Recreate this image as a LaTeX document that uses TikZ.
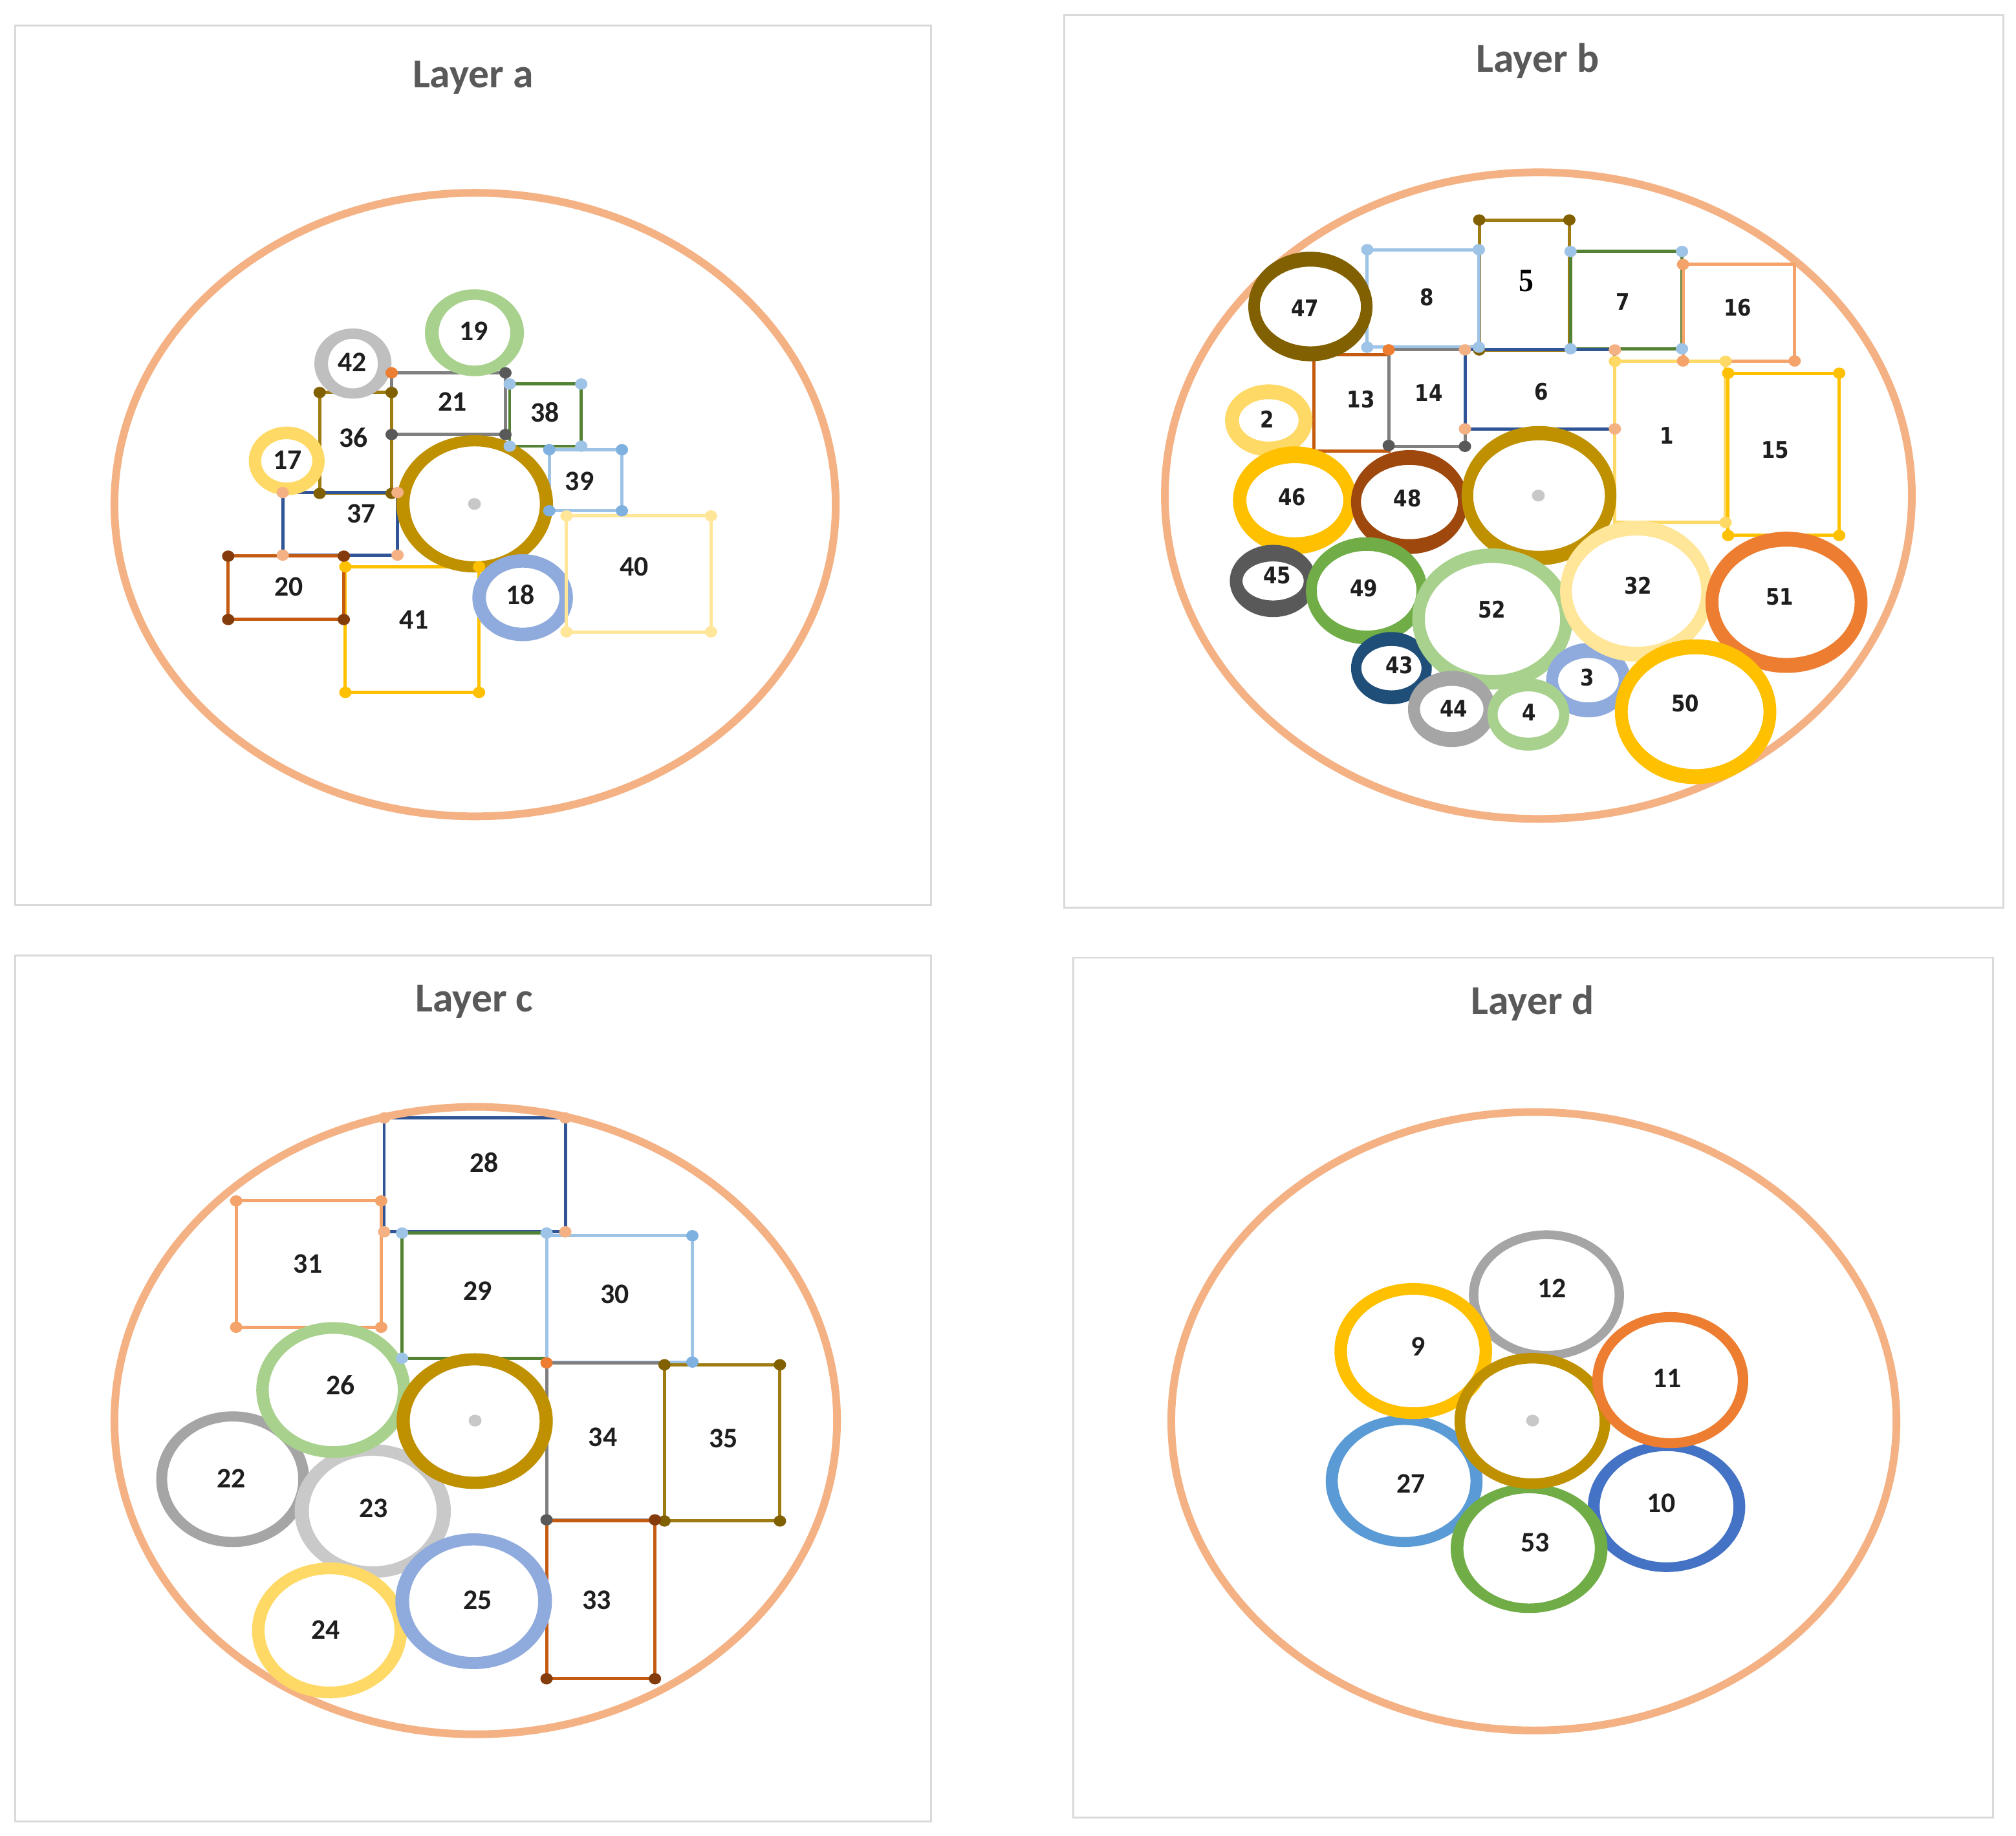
\documentclass[tikz,border=0pt]{standalone}
\usepackage{fontspec}
\usepackage{graphicx}
\setmainfont{Carlito}
\newfontfamily\dejavu{DejaVu Sans}
\newfontfamily\libserif{Liberation Serif}
\definecolor{peach}{HTML}{F4B183}
\definecolor{gold}{HTML}{BF9000}
\definecolor{olive}{HTML}{806000}
\definecolor{oliveline}{HTML}{9E7C12}
\definecolor{lgreen}{HTML}{A9D18E}
\definecolor{silver}{HTML}{BFBFBF}
\definecolor{lgold}{HTML}{FFD966}
\definecolor{periw}{HTML}{8FAADC}
\definecolor{navy}{HTML}{2F5597}
\definecolor{dgreen}{HTML}{548235}
\definecolor{skyb}{HTML}{9DC3E6}
\definecolor{skyd}{HTML}{7EB0E0}
\definecolor{pyellow}{HTML}{FFE699}
\definecolor{amber}{HTML}{FFC000}
\definecolor{sienna}{HTML}{C55A11}
\definecolor{dbrown}{HTML}{843C0C}
\definecolor{midgray}{HTML}{7F7F7F}
\definecolor{dgray}{HTML}{595959}
\definecolor{orange}{HTML}{ED7D31}
\definecolor{salmon}{HTML}{F4A46A}
\definecolor{rust}{HTML}{9E480E}
\definecolor{deepnavy}{HTML}{1F4E79}
\definecolor{grayb}{HTML}{A5A5A5}
\definecolor{lgray}{HTML}{C9C9C9}
\definecolor{blueten}{HTML}{4472C4}
\definecolor{bluetws}{HTML}{5B9BD5}
\definecolor{green}{HTML}{70AD47}
\definecolor{framec}{HTML}{D9D9D9}
\definecolor{titlec}{HTML}{595959}
\definecolor{numc}{HTML}{1E1E1E}
\definecolor{cdot}{HTML}{C8C8C8}
\newcommand{\lyrRing}[7]{\fill[#7, even odd rule] (#1,#2) ellipse [x radius=#3, y radius=#4] (#1,#2) ellipse [x radius=#5, y radius=#6];}
\newcommand{\lyrBox}[5]{\draw[boxline, draw=#5] (#1,#2) rectangle (#3,#4);}
\newcommand{\lyrDot}[3]{\fill[#3] (#1,#2) ellipse [x radius=4.8, y radius=4.4];}
\newcommand{\lyrCdot}[2]{\fill[cdot] (#1,#2) ellipse [x radius=5, y radius=4.6];}
\newcommand{\tb}[1]{\scalebox{1}[1.15]{#1}}
\begin{document}
\begin{tikzpicture}[x=1pt,y=-1pt,
  frame/.style={draw=framec,line width=1.5pt},
  outerell/.style={draw=peach,line width=6pt},
  boxline/.style={line width=2.5pt},
  ttl/.style={font=\fontsize{32}{36}\selectfont\bfseries,text=titlec,anchor=base},
  numa/.style={font=\fontsize{22}{24}\selectfont\bfseries,text=numc,inner sep=0pt},
  numb/.style={font=\dejavu\bfseries\fontsize{15.5}{17}\selectfont,text=numc,inner sep=0pt},
  numt/.style={font=\libserif\bfseries\fontsize{23}{25}\selectfont,text=black,inner sep=0pt}]
\useasboundingbox (0,0) rectangle (1568,1428);
\fill[white] (0,0) rectangle (1568,1428);
% frames
\draw[frame] (12,20) rectangle (724,704);
\draw[frame] (828,12) rectangle (1558,706);
\draw[frame] (12,743) rectangle (724,1417);
\draw[frame] (835,745) rectangle (1550,1414);
\node[ttl] (ta) at (368,68) {Layer a};
\node[ttl] (tbb) at (1196,56) {Layer b};
\node[ttl] (tc) at (369,787) {Layer c};
\node[ttl] (td) at (1192,789) {Layer d};

% ================= Layer a =================
\draw[outerell] (369.5,392.5) ellipse [x radius=280.5, y radius=242.5];
\lyrBox{304.6}{290}{393.1}{338}{midgray}
\lyrBox{248.6}{305.3}{304.6}{383.8}{oliveline}
\lyrBox{219.9}{383.1}{309.2}{431.8}{navy}
\lyrBox{396.4}{298.7}{452.1}{347.1}{dgreen}
\lyrBox{427.2}{349.8}{483.7}{397.3}{skyb}
\lyrBox{268.6}{440.9}{372.6}{538.6}{amber}
\lyrBox{177.5}{432.6}{267.4}{481.9}{sienna}
\lyrRing{274.5}{282.8}{30}{27.3}{19.4}{19.3}{silver}
\lyrRing{369}{258.8}{38.5}{33.8}{27.8}{25.6}{lgreen}
\lyrRing{223}{358.5}{29.5}{26.7}{19.9}{16.9}{lgold}
\lyrRing{369.2}{391.9}{60.9}{53.4}{50.7}{44.7}{gold}
\lyrRing{406.5}{464.9}{39.1}{33.8}{28.6}{23.4}{periw}
\lyrBox{440.6}{401.3}{553}{491.5}{pyellow}
% dots a
\lyrDot{304.6}{290}{orange}
\lyrDot{393.1}{290}{dgray}
\lyrDot{304.6}{338}{dgray}
\lyrDot{393.1}{338}{dgray}
\lyrDot{248.6}{305.3}{olive}
\lyrDot{304.6}{305.3}{olive}
\lyrDot{248.6}{383.8}{olive}
\lyrDot{304.6}{383.8}{olive}
\lyrDot{219.9}{383.1}{peach}
\lyrDot{309.2}{383.1}{peach}
\lyrDot{219.9}{431.8}{peach}
\lyrDot{309.2}{431.8}{peach}
\lyrDot{396.4}{298.7}{skyb}
\lyrDot{452.1}{298.7}{skyb}
\lyrDot{396.4}{347.1}{skyb}
\lyrDot{452.1}{347.1}{skyb}
\lyrDot{427.2}{349.8}{skyd}
\lyrDot{483.7}{349.8}{skyd}
\lyrDot{427.2}{397.3}{skyd}
\lyrDot{483.7}{397.3}{skyd}
\lyrDot{440.6}{401.3}{pyellow}
\lyrDot{553}{401.3}{pyellow}
\lyrDot{440.6}{491.5}{pyellow}
\lyrDot{553}{491.5}{pyellow}
\lyrDot{268.6}{440.9}{amber}
\lyrDot{372.6}{440.9}{amber}
\lyrDot{268.6}{538.6}{amber}
\lyrDot{372.6}{538.6}{amber}
\lyrDot{177.5}{432.6}{dbrown}
\lyrDot{267.4}{432.6}{dbrown}
\lyrDot{177.5}{481.9}{dbrown}
\lyrDot{267.4}{481.9}{dbrown}
\lyrCdot{369}{392}
\node[numa] (a19) at (368.7,257.7) {19};
\node[numa] (a42) at (273.8,281.7) {42};
\node[numa] (a21) at (352,312.3) {21};
\node[numa] (a38) at (423.9,320.5) {38};
\node[numa] (a36) at (275,340.6) {36};
\node[numa] (a17) at (223.7,357.6) {17};
\node[numa] (a39) at (450.8,374.4) {39};
\node[numa] (a37) at (281,399.5) {37};
\node[numa] (a20) at (224.5,456.2) {20};
\node[numa] (a40) at (493.2,440.9) {40};
\node[numa] (a18) at (404.6,462.7) {18};
\node[numa] (a41) at (322,482) {41};

% ================= Layer b =================
\draw[outerell] (1196.5,385.5) ellipse [x radius=290.5, y radius=251.5];
\lyrBox{1150.5}{171.1}{1220.6}{272.2}{oliveline}
\lyrBox{1063.4}{194.2}{1150.2}{270.1}{skyb}
\lyrBox{1221.5}{195.6}{1308.2}{271.3}{dgreen}
\lyrBox{1309}{205.7}{1395.8}{280.8}{salmon}
\lyrBox{1022.1}{275.9}{1080.1}{351}{sienna}
\lyrBox{1080.1}{272.1}{1139.4}{347.2}{midgray}
\lyrBox{1139.4}{272.1}{1256}{333.6}{navy}
\lyrBox{1256}{281}{1342.1}{406.4}{lgold}
\lyrBox{1344.1}{290.3}{1430.5}{416.5}{amber}
\lyrRing{1019.2}{238.4}{48.3}{42.6}{39.3}{31}{olive}
\lyrRing{986.8}{327}{34}{28}{23.2}{16.5}{lgold}
\lyrRing{1007.1}{389.1}{48.1}{41.9}{37.7}{28.9}{amber}
\lyrRing{1096.2}{390.5}{45.4}{40.4}{37.7}{28.9}{rust}
\lyrRing{1197}{385.5}{60.2}{54.1}{51.2}{43}{gold}
\lyrRing{990.2}{451.9}{33.7}{28.1}{23.8}{15.2}{dgray}
\lyrRing{1062.9}{459.5}{47.2}{41.6}{38.8}{31}{green}
\lyrRing{1082.2}{519.7}{31.4}{28.1}{23.4}{17.3}{deepnavy}
\lyrRing{1160.8}{481.5}{62.4}{54.9}{52.6}{43.6}{lgreen}
\lyrRing{1235.4}{529.1}{32.8}{28.9}{23.6}{17.3}{periw}
\lyrRing{1129.1}{551.5}{34}{29.6}{24.7}{18}{grayb}
\lyrRing{1188.7}{555.8}{31.9}{28.1}{23.9}{18}{lgreen}
\lyrRing{1272.9}{459.8}{59.5}{54.9}{50.3}{43.3}{pyellow}
\lyrRing{1389.5}{468.5}{63}{54.9}{53}{43.3}{orange}
\lyrRing{1318.8}{553.6}{62.8}{56.3}{52.8}{44.7}{amber}
% dots b
\lyrDot{1150.5}{171.1}{olive}
\lyrDot{1220.6}{171.1}{olive}
\lyrDot{1150.5}{272.2}{olive}
\lyrDot{1063.4}{194.2}{skyb}
\lyrDot{1150.2}{194.2}{skyb}
\lyrDot{1063.4}{270.1}{skyb}
\lyrDot{1150.2}{270.1}{skyb}
\lyrDot{1221.5}{195.6}{skyb}
\lyrDot{1308.2}{195.6}{skyb}
\lyrDot{1221.5}{271.3}{skyb}
\lyrDot{1308.2}{271.3}{skyb}
\lyrDot{1309}{205.7}{salmon}
\lyrDot{1309}{280.8}{salmon}
\lyrDot{1395.8}{280.8}{salmon}
\lyrDot{1080.1}{272.1}{orange}
\lyrDot{1080.1}{346.5}{dgray}
\lyrDot{1139.4}{347.2}{dgray}
\lyrDot{1139.4}{272.1}{peach}
\lyrDot{1139.4}{333.6}{peach}
\lyrDot{1256}{272.2}{peach}
\lyrDot{1256}{333.6}{peach}
\lyrDot{1256}{281}{lgold}
\lyrDot{1342.1}{281}{lgold}
\lyrDot{1342.1}{406.4}{lgold}
\lyrDot{1344.1}{290.3}{amber}
\lyrDot{1430.5}{290.3}{amber}
\lyrDot{1344.1}{416.5}{amber}
\lyrDot{1430.5}{416.5}{amber}
\lyrCdot{1196.5}{385.5}
\node[numb] (b47) at (1014.9,239.5) {\tb{47}};
\node[numb] (b8) at (1109.6,231.2) {\tb{8}};
\node[numt] (b5) at (1187.3,218.7) {\scalebox{1}[1.1]{5}};
\node[numb] (b7) at (1262.3,234.6) {\tb{7}};
\node[numb] (b16) at (1351.6,239) {\tb{16}};
\node[numb] (b13) at (1058.5,310.5) {\tb{13}};
\node[numb] (b14) at (1111.3,305.4) {\tb{14}};
\node[numb] (b6) at (1199,304.8) {\tb{6}};
\node[numb] (b1) at (1296.5,338.6) {\tb{1}};
\node[numb] (b15) at (1380.8,350.1) {\tb{15}};
\node[numb] (b2) at (985.6,326.1) {\tb{2}};
\node[numb] (b46) at (1005,386.8) {\tb{46}};
\node[numb] (b48) at (1094.8,387.6) {\tb{48}};
\node[numb] (b45) at (993.3,447.7) {\tb{45}};
\node[numb] (b49) at (1060.7,457.8) {\tb{49}};
\node[numb] (b52) at (1160.4,474.2) {\tb{52}};
\node[numb] (b32) at (1274,455.5) {\tb{32}};
\node[numb] (b51) at (1384.1,464.1) {\tb{51}};
\node[numb] (b43) at (1088.5,517.5) {\tb{43}};
\node[numb] (b3) at (1234.8,527.1) {\tb{3}};
\node[numb] (b44) at (1130.8,551.3) {\tb{44}};
\node[numb] (b4) at (1189.1,554.2) {\tb{4}};
\node[numb] (b50) at (1310.7,547.3) {\tb{50}};

% ================= Layer c =================
\lyrBox{298.8}{869.6}{439.7}{958.2}{navy}
\lyrBox{183.7}{934.1}{296.5}{1032.4}{salmon}
\lyrBox{312.7}{959.1}{425.1}{1056.5}{dgreen}
\lyrBox{425.1}{961.2}{538.5}{1059.5}{skyb}
\lyrBox{425.1}{1060.1}{516.8}{1182.2}{midgray}
\lyrBox{516.8}{1061.6}{606.6}{1183.1}{oliveline}
\lyrBox{425.1}{1183.1}{509.4}{1305.8}{sienna}
\draw[outerell] (370,1105) ellipse [x radius=281, y radius=244];
\lyrRing{181}{1150.6}{59.5}{52.8}{51}{44.9}{grayb}
\lyrRing{289.9}{1175.4}{60.75}{52}{49.7}{43}{lgray}
\lyrRing{259.2}{1081.2}{59.9}{52.8}{50.2}{43.7}{lgreen}
\lyrRing{256.3}{1268.2}{60.3}{52.8}{50.5}{43.7}{lgold}
\lyrRing{368.4}{1245.5}{60.9}{52.8}{50.2}{43.4}{periw}
\lyrRing{369.2}{1105.4}{60.75}{52.8}{50.5}{43.3}{gold}
% dots c
\lyrDot{298.8}{869.6}{peach}
\lyrDot{439.7}{869.6}{peach}
\lyrDot{298.8}{958.2}{peach}
\lyrDot{439.7}{958.2}{peach}
\lyrDot{183.7}{934.1}{salmon}
\lyrDot{296.5}{934.1}{salmon}
\lyrDot{183.7}{1032.4}{salmon}
\lyrDot{296.5}{1032.4}{salmon}
\lyrDot{312.7}{959.1}{skyb}
\lyrDot{425.1}{959.1}{skyb}
\lyrDot{312.7}{1056.5}{skyb}
\lyrDot{538.5}{961.2}{skyd}
\lyrDot{538.5}{1059.5}{skyd}
\lyrDot{425.1}{1060.1}{orange}
\lyrDot{425.1}{1182.2}{dgray}
\lyrDot{516.8}{1061.6}{olive}
\lyrDot{606.6}{1061.6}{olive}
\lyrDot{516.8}{1183.1}{olive}
\lyrDot{606.6}{1183.1}{olive}
\lyrDot{509.4}{1182.2}{dbrown}
\lyrDot{425.1}{1305.8}{dbrown}
\lyrDot{509.4}{1305.8}{dbrown}
\lyrCdot{369.5}{1105}
\node[numa] (c28) at (376.5,904) {28};
\node[numa] (c31) at (239.5,983.2) {31};
\node[numa] (c29) at (371.7,1004.3) {29};
\node[numa] (c30) at (478,1006.5) {30};
\node[numa] (c26) at (264.7,1077.6) {26};
\node[numa] (c34) at (468.9,1118) {34};
\node[numa] (c35) at (562.8,1118.9) {35};
\node[numa] (c22) at (179.9,1150) {22};
\node[numa] (c23) at (290.7,1173.2) {23};
\node[numa] (c25) at (371.7,1244.6) {25};
\node[numa] (c33) at (464,1244.6) {33};
\node[numa] (c24) at (253.4,1267.5) {24};

% ================= Layer d =================
\draw[outerell] (1193,1105.5) ellipse [x radius=282, y radius=240.5];
\lyrRing{1202.8}{1007.3}{60.3}{50.3}{53}{43.5}{grayb}
\lyrRing{1092.1}{1152}{61}{51.3}{51.6}{43.6}{bluetws}
\lyrRing{1296.2}{1172}{61.2}{50.8}{52}{43.3}{blueten}
\lyrRing{1099.2}{1050.9}{61.3}{52.9}{51.6}{43.8}{amber}
\lyrRing{1189.3}{1204.4}{61}{50.3}{51.1}{42.9}{green}
\lyrRing{1191.9}{1105.3}{60.6}{52.9}{52.2}{44.7}{gold}
\lyrRing{1299.1}{1073.5}{60.6}{52.9}{52.5}{45.2}{orange}
\lyrCdot{1192}{1105}
\node[numa] (d12) at (1207,1002.2) {12};
\node[numa] (d9) at (1103,1047.3) {9};
\node[numa] (d11) at (1296.8,1072) {11};
\node[numa] (d27) at (1097.6,1154.1) {27};
\node[numa] (d53) at (1194.2,1199.9) {53};
\node[numa] (d10) at (1292.3,1169.1) {10};
\end{tikzpicture}
\end{document}
